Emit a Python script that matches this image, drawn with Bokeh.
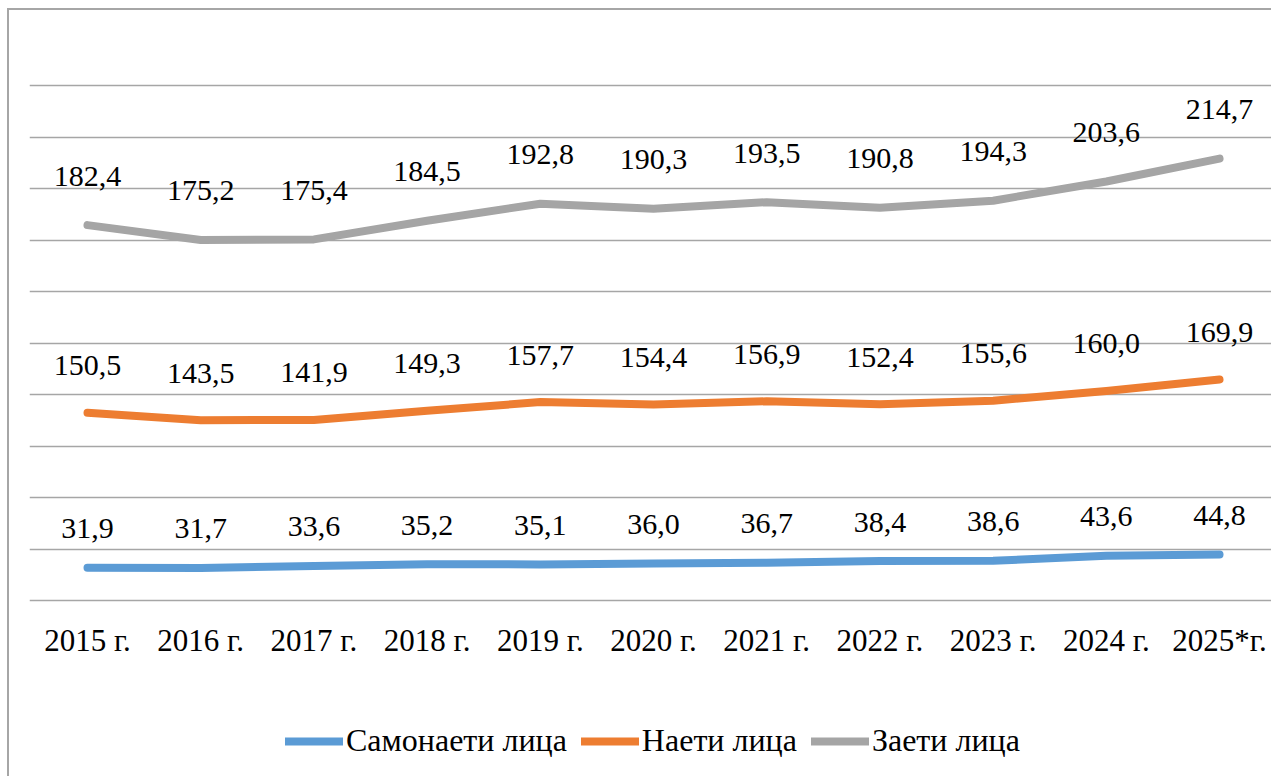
import numpy as np
from bokeh.plotting import figure
from bokeh.models import (Range1d, FixedTicker, Legend, LegendItem, ColumnDataSource)
from bokeh.core.properties import value
from bokeh.embed import file_html
from bokeh.resources import INLINE

# ---- data ----
categories = ["2015 г.", "2016 г.", "2017 г.", "2018 г.", "2019 г.", "2020 г.",
              "2021 г.", "2022 г.", "2023 г.", "2024 г.", "2025*г."]
self_employed = [31.9, 31.7, 33.6, 35.2, 35.1, 36.0, 36.7, 38.4, 38.6, 43.6, 44.8]
employees = [150.5, 143.5, 141.9, 149.3, 157.7, 154.4, 156.9, 152.4, 155.6, 160.0, 169.9]
employed = [182.4, 175.2, 175.4, 184.5, 192.8, 190.3, 193.5, 190.8, 194.3, 203.6, 214.7]
series_names = ["Самонаети лица", "Наети лица", "Заети лица"]
series_colors = ["#5B9BD5", "#ED7D31", "#A5A5A5"]
grid_ticks = list(range(0, 501, 50))

FONT = "Liberation Serif"

x = np.arange(len(categories))
# stacked line chart
stack1 = np.array(self_employed)
stack2 = stack1 + np.array(employees)
stack3 = stack2 + np.array(employed)
stacks = [stack1, stack2, stack3]
raw = [self_employed, employees, employed]
label_offsets = [-39, -47, -49]

p = figure(frame_width=1242, frame_height=742, output_backend="svg", toolbar_location=None,
           x_range=Range1d(-0.5124, 10.459), y_range=Range1d(-171, 550),
           min_border_left=20, min_border_right=0, min_border_top=24,
           min_border_bottom=0)
p.styles = {"margin-left": "7px", "margin-top": "8px",
            "border-left": "2px solid #a6a6a6", "border-top": "2px solid #a6a6a6"}
p.outline_line_color = None
p.background_fill_color = "white"
p.border_fill_color = "white"

p.yaxis.visible = False
p.xgrid.visible = False
p.ygrid.ticker = FixedTicker(ticks=grid_ticks)
p.ygrid.grid_line_color = "#a6a6a6"
p.ygrid.grid_line_width = 1.5

xa = p.xaxis[0]
xa.fixed_location = 0
xa.ticker = FixedTicker(ticks=list(range(len(categories))))
xa.major_label_overrides = {i: c for i, c in enumerate(categories)}
xa.axis_line_color = None
xa.major_tick_line_color = None
xa.minor_tick_line_color = None
xa.major_tick_out = 0
xa.major_tick_in = 0
xa.major_label_standoff = 22
xa.major_label_text_font = FONT
xa.major_label_text_font_size = "31px"
xa.major_label_text_color = "black"

items = []
for name, color, st in zip(series_names, series_colors, stacks):
    r = p.line(x, st, line_color=color, line_width=8, line_cap="round", line_join="round")
    items.append(LegendItem(label=name, renderers=[r]))

for vals, st, off in zip(raw, stacks, label_offsets):
    src = ColumnDataSource(dict(x=x, y=st, t=[f"{v:.1f}".replace(".", ",") for v in vals]))
    p.text(x="x", y="y", text="t", source=src, text_font=value(FONT), text_font_size="30px",
           text_align="center", text_baseline="middle", y_offset=off, text_color="black")

legend = Legend(items=items, orientation="horizontal", location=(256, 17),
                glyph_width=58, glyph_height=30, label_standoff=3, spacing=14,
                label_text_font=FONT, label_text_font_size="32px", label_text_color="black",
                border_line_color=None, background_fill_alpha=0, padding=0, margin=0)
p.add_layout(legend, "center")

open("out.html", "w").write(file_html(p, INLINE))
